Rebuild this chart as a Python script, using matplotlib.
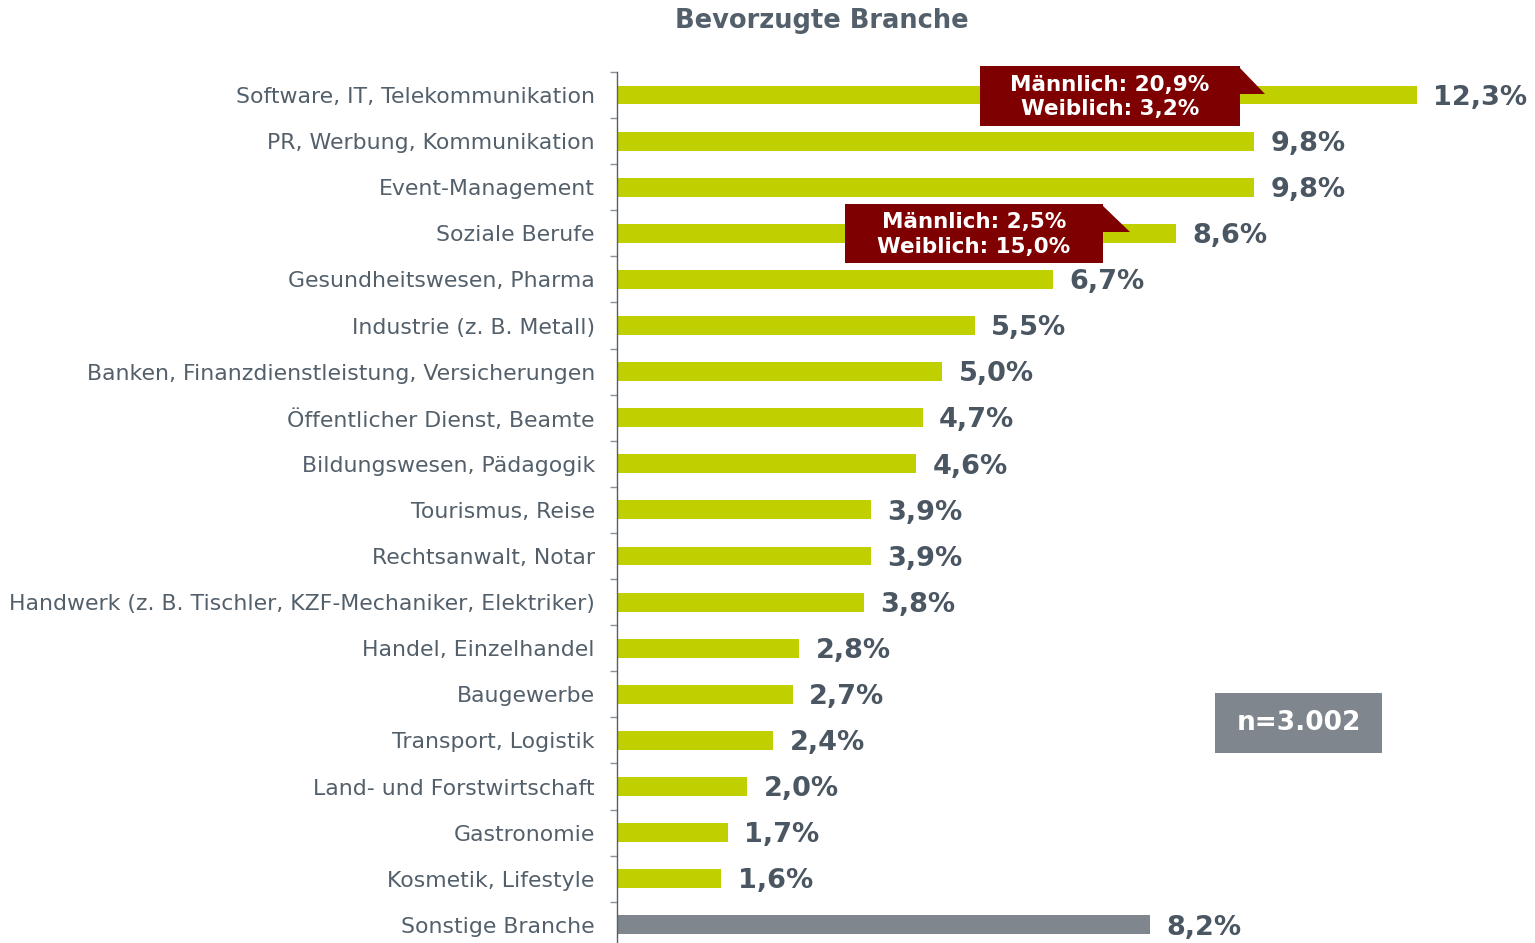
import matplotlib.pyplot as plt
from matplotlib.patches import Rectangle, Polygon

plt.rcParams['font.family'] = ['DejaVu Sans']

# data
branchen = ['Software, IT, Telekommunikation', 'PR, Werbung, Kommunikation', 'Event-Management',
            'Soziale Berufe', 'Gesundheitswesen, Pharma', 'Industrie (z. B. Metall)',
            'Banken, Finanzdienstleistung, Versicherungen', 'Öffentlicher Dienst, Beamte',
            'Bildungswesen, Pädagogik', 'Tourismus, Reise', 'Rechtsanwalt, Notar',
            'Handwerk (z. B. Tischler, KZF-Mechaniker, Elektriker)', 'Handel, Einzelhandel',
            'Baugewerbe', 'Transport, Logistik', 'Land- und Forstwirtschaft', 'Gastronomie',
            'Kosmetik, Lifestyle', 'Sonstige Branche']
anteile = [12.3, 9.8, 9.8, 8.6, 6.7, 5.5, 5.0, 4.7, 4.6, 3.9, 3.9, 3.8, 2.8, 2.7, 2.4, 2.0, 1.7, 1.6, 8.2]
callout_texts = ['Männlich: 20,9%\nWeiblich: 3,2%', 'Männlich: 2,5%\nWeiblich: 15,0%']
n_text = 'n=3.002'

green = '#c0cf00'
grey_bar = '#7f868e'
txt = '#53606b'
dark = '#4a5662'
red = '#7f0000'

W, H = 1535, 943
fig = plt.figure(figsize=(W / 100, H / 100), dpi=100)
# axes: left edge at x=617px, rows 46.1px apart, first row centre at y=95px
row_h = 46.1
top = 95 - row_h / 2
bottom = top + row_h * len(branchen)
ax = fig.add_axes([617 / W, 1 - bottom / H, (W - 617) / W, (bottom - top) / H])

ypos = list(range(len(branchen)))
colors = [green] * (len(branchen) - 1) + [grey_bar]
ax.barh(ypos, anteile, height=0.41, color=colors)
ax.set_xlim(0, (W - 617) / 65.0)
ax.set_ylim(len(branchen) - 0.5, -0.5)

for y, v in zip(ypos, anteile):
    ax.annotate(f'{v:.1f}%'.replace('.', ','), (v, y), xytext=(12, -2), textcoords='offset points',
                va='center', ha='left', fontsize=19.5, fontweight='bold', color=dark)

for s in ['top', 'right', 'bottom']:
    ax.spines[s].set_visible(False)
ax.spines['left'].set_color('#555f69')
ax.spines['left'].set_linewidth(1)
ax.set_xticks([])
ax.set_yticks(ypos)
ax.set_yticklabels(branchen, fontsize=15.8, color=txt)
ax.tick_params(axis='y', which='major', length=0, pad=16)
ax.set_yticks([y + 0.5 for y in ypos[:-1]] + [-0.5], minor=True)
ax.tick_params(axis='y', which='minor', length=5, color='#8a9199', width=1)


def px2x(px):
    return (px - 617) / 65.0


def py2y(py):
    return (py - 95) / row_h


# callout boxes
boxes = [(980, 66, 1240, 126, 1265, 94), (845, 204, 1103, 263, 1130, 232)]
for (x0, y0, x1, y1, tx, ty), t in zip(boxes, callout_texts):
    ax.add_patch(Polygon([(px2x(x1 - 1), py2y(y0 + 1)), (px2x(tx), py2y(ty)), (px2x(x1 - 1), py2y(ty))],
                         closed=True, color=red, zorder=4, lw=0, clip_on=False))
    ax.add_patch(Rectangle((px2x(x0), py2y(y0)), px2x(x1) - px2x(x0), py2y(y1) - py2y(y0),
                           color=red, zorder=5, lw=0, clip_on=False))
    ax.text((px2x(x0) + px2x(x1)) / 2, (py2y(y0) + py2y(y1)) / 2 + 0.02, t, ha='center', va='center',
            color='white', fontsize=15.5, fontweight='bold', linespacing=1.3, zorder=6)

# n box
ax.add_patch(Rectangle((px2x(1215), py2y(693)), px2x(1382) - px2x(1215), py2y(753) - py2y(693),
                       color='#7f868e', lw=0, zorder=5, clip_on=False))
ax.text((px2x(1215) + px2x(1382)) / 2, (py2y(693) + py2y(753)) / 2, n_text, ha='center', va='center',
        color='white', fontsize=19, fontweight='bold', zorder=6)

fig.text(822 / W, 1 - 21 / H, 'Bevorzugte Branche', ha='center', va='center',
         fontsize=18.5, fontweight='bold', color=txt)

fig.savefig('out.png', dpi=100)
